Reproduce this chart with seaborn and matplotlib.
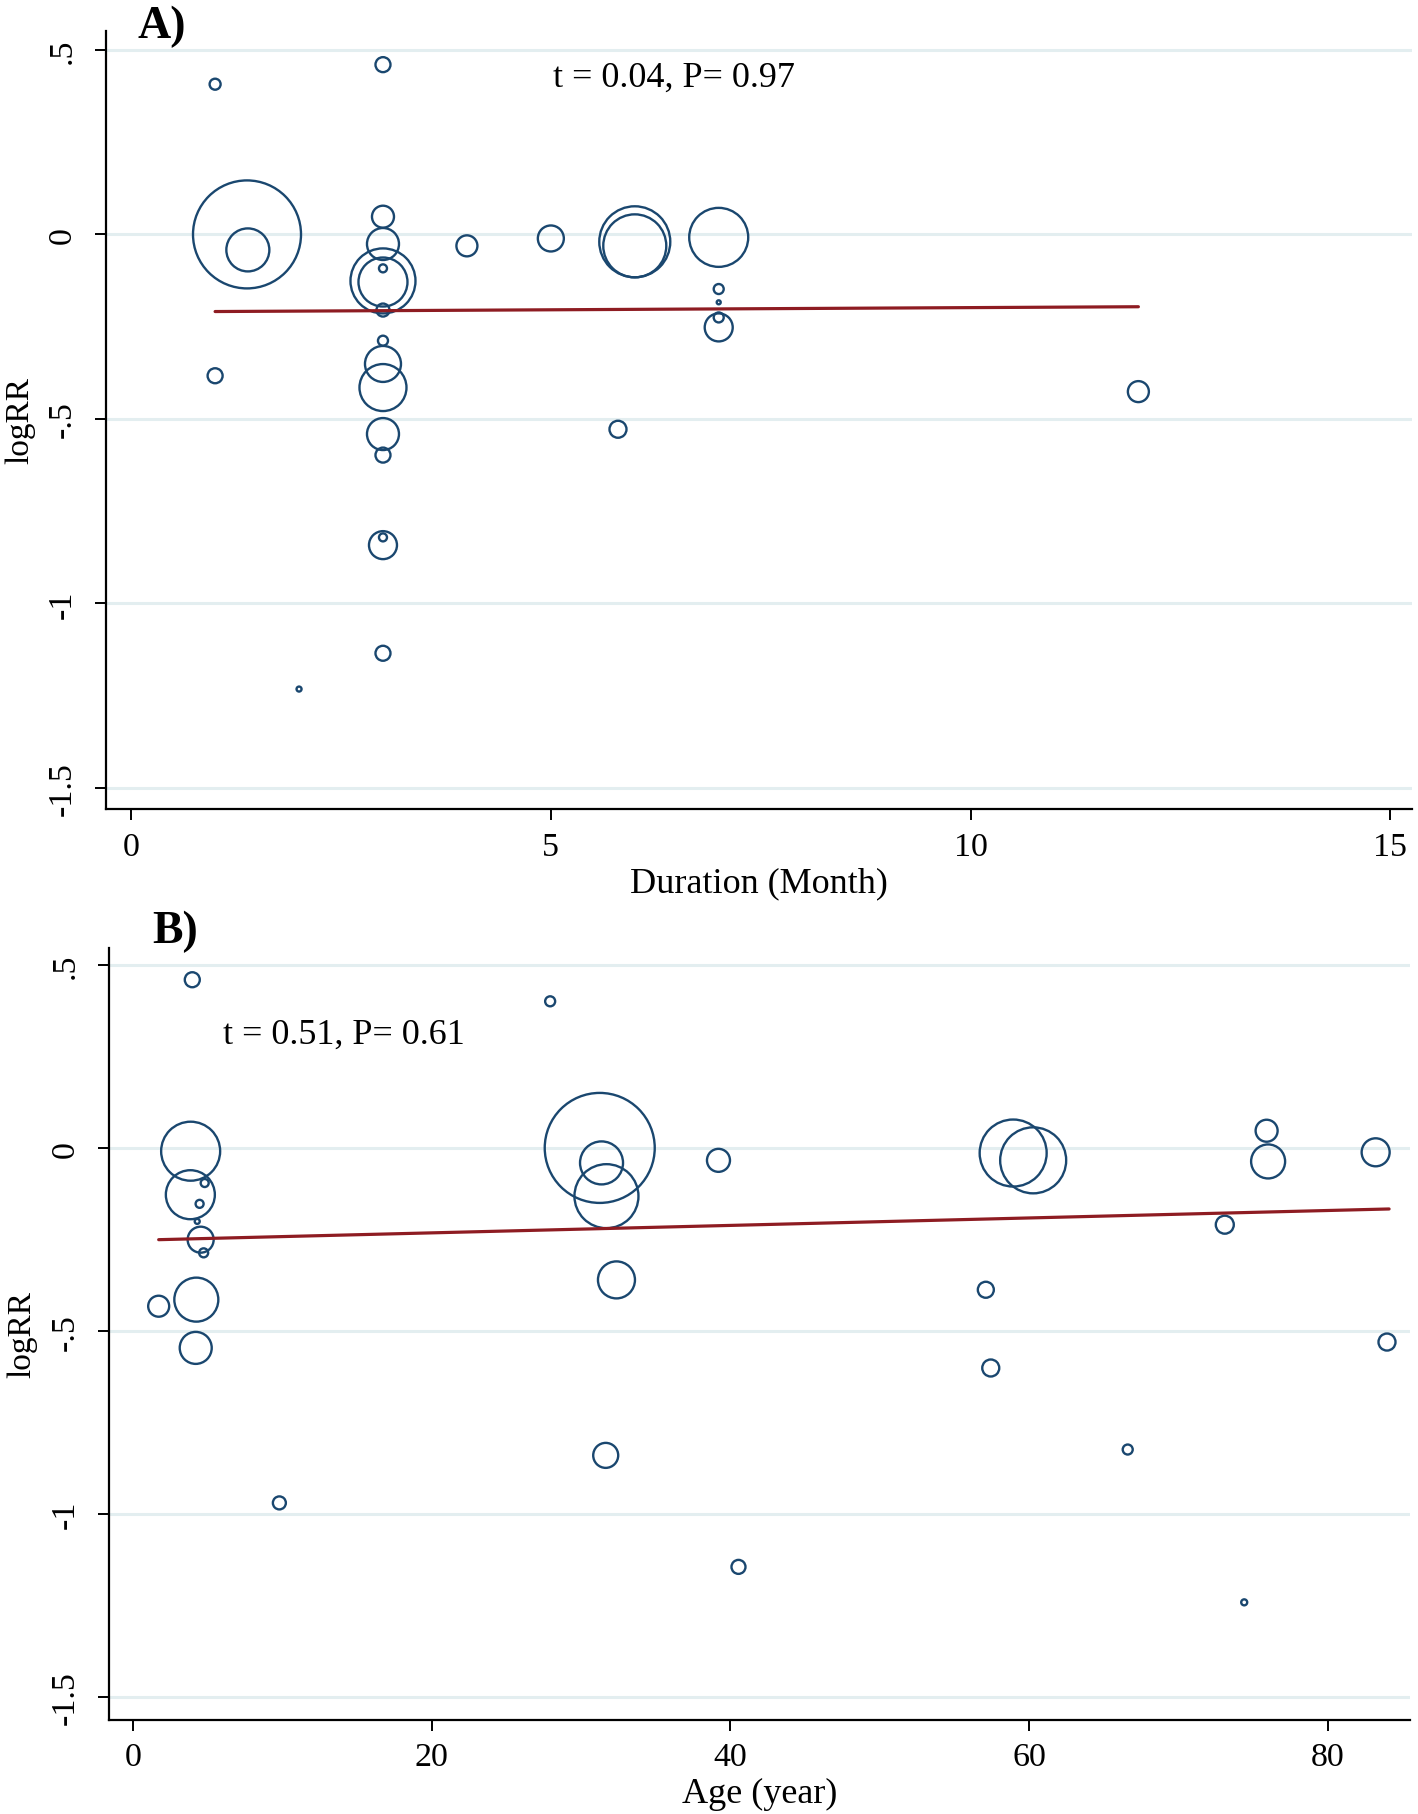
import numpy as np
import pandas as pd
import matplotlib
matplotlib.use("Agg")
import matplotlib.pyplot as plt
import seaborn as sns

# ---------------- data ----------------
# Panel A: duration (months) vs logRR, bubble weight
dur_x = [1, 3, 1.38, 1.39, 3, 3, 3, 3, 3, 3, 3, 3, 3, 3, 3, 1, 4, 5, 6, 6,
         7, 7, 7, 7, 7, 5.8, 12, 3, 3, 3, 2]
dur_y = [0.407, 0.46, 0.0, -0.042, 0.048, -0.026, -0.126, -0.129, -0.092, -0.205,
         -0.288, -0.351, -0.415, -0.541, -0.598, -0.383, -0.031, -0.011, -0.02, -0.031,
         -0.008, -0.148, -0.184, -0.225, -0.252, -0.528, -0.426, -0.842, -0.821, -1.135,
         -1.232]
dur_w = [1.21, 2.25, 116.64, 18.49, 4.84, 10.24, 42.25, 24.01, 0.64, 1.69,
         1.00, 12.96, 22.09, 10.24, 2.25, 2.25, 4.41, 6.76, 50.41, 39.69,
         34.81, 1.00, 0.16, 1.00, 7.84, 2.89, 4.41, 7.84, 0.64, 2.25,
         0.25]
dur_fit_x = [1, 12]
dur_fit_y = [-0.209, -0.196]

# Panel B: age (years) vs logRR, bubble weight
age_x = [3.97, 27.93, 3.86, 3.84, 4.8, 4.46, 4.3, 4.53, 4.73, 4.24, 1.72, 4.2,
         31.25, 31.37, 31.7, 32.37, 39.2, 58.93, 60.27, 57.1, 57.43, 31.65, 9.8,
         40.54, 66.6, 74.4, 75.9, 76.0, 83.2, 73.1, 83.96]
age_y = [0.461, 0.402, -0.008, -0.127, -0.095, -0.152, -0.2, -0.25, -0.286, -0.414,
         -0.432, -0.546, 0.001, -0.04, -0.131, -0.36, -0.033, -0.013, -0.033, -0.387,
         -0.601, -0.84, -0.97, -1.145, -0.824, -1.242, 0.048, -0.036, -0.011, -0.209,
         -0.53]
age_w = [2.25, 1.00, 34.81, 24.01, 0.64, 0.64, 0.25, 6.76, 0.81, 19.36, 4.41, 10.24,
         121.0, 18.49, 40.96, 13.69, 5.29, 44.89, 43.56, 2.56, 2.89, 6.25, 1.69,
         1.96, 1.00, 0.36, 4.84, 11.56, 7.84, 3.24, 2.89]
age_fit_x = [1.72, 84.1]
age_fit_y = [-0.25, -0.166]

ytick_vals = [-1.5, -1, -0.5, 0, 0.5]
ytick_labels = ["-1.5", "-1", "-.5", "0", ".5"]
dur_ticks = [0, 5, 10, 15]
age_ticks = [0, 20, 40, 60, 80]

stat_A = "t = 0.04, P= 0.97"
stat_B = "t = 0.51, P= 0.61"

# ---------------- style ----------------
sns.set_theme(style="white")
plt.rcParams["font.family"] = ["Liberation Serif", "DejaVu Serif"]
plt.rcParams["axes.unicode_minus"] = False

NAVY = "#1a476f"
MAROON = "#8e1c22"
GRID = "#e3eef0"
K = 51.84  # points^2 per weight unit

W, H = 1418, 1815
fig = plt.figure(figsize=(W / 100, H / 100), dpi=100)


def make_axes(l, r, t, b):
    return fig.add_axes([l / W, 1 - b / H, (r - l) / W, (b - t) / H])


axA = make_axes(106, 1412, 31.7, 810)
axB = make_axes(108.5, 1410, 949.3, 1720.7)

panels = [
    (axA, dur_x, dur_y, dur_w, dur_fit_x, dur_fit_y, dur_ticks, (-0.30, 15.26),
     (-1.557, 0.552), "Duration (Month)", stat_A, (5.02, 0.426)),
    (axB, age_x, age_y, age_w, age_fit_x, age_fit_y, age_ticks, (-1.64, 85.5),
     (-1.563, 0.547), "Age (year)", stat_B, (6.02, 0.313)),
]

for ax, xs, ys, ws, fx, fy, xt, xl, yl, xlabel, stat, spos in panels:
    df = pd.DataFrame({"x": xs, "y": ys, "w": ws})
    wmin, wmax = min(ws), max(ws)
    sns.scatterplot(data=df, x="x", y="y", size="w",
                    sizes=(K * wmin, K * wmax), size_norm=(wmin, wmax),
                    legend=False, ax=ax, zorder=3)
    pts = ax.collections[-1]
    pts.set_facecolor("none")
    pts.set_edgecolor(NAVY)
    pts.set_linewidth(1.7)

    sns.lineplot(x=fx, y=fy, color=MAROON, linewidth=2.3, ax=ax, zorder=4)

    ax.set_xlim(*xl)
    ax.set_ylim(*yl)
    ax.set_xticks(xt)
    ax.set_xticklabels([str(v) for v in xt])
    ax.set_yticks(ytick_vals)
    ax.set_yticklabels(ytick_labels)

    ax.grid(False)
    for v in ytick_vals:
        ax.axhline(v, color=GRID, linewidth=2.2, zorder=0)

    for s in ["top", "right"]:
        ax.spines[s].set_visible(False)
    for s in ["left", "bottom"]:
        ax.spines[s].set_color("black")
        ax.spines[s].set_linewidth(1.6)

    ax.tick_params(axis="both", which="major", direction="out", length=8,
                   width=1.4, color="black", labelsize=24.5, labelcolor="black",
                   left=True, bottom=True)
    ax.tick_params(axis="x", pad=8)
    ax.tick_params(axis="y", pad=12, labelrotation=90)
    for lab in ax.get_yticklabels():
        lab.set_va("center")

    ax.set_xlabel(xlabel, fontsize=26, color="black", labelpad=3)
    ax.set_ylabel("logRR", fontsize=24, color="black")
    ax.yaxis.label.set_va("center")
    ax.yaxis.set_label_coords(-0.066, 0.5)

    ax.text(spos[0], spos[1], stat, fontsize=26, color="black",
            ha="left", va="center", zorder=5)

fig.text(137 / W, 1 - 27 / H, "A)", fontsize=33, fontweight="bold",
         ha="left", va="center", color="black")
fig.text(152 / W, 1 - 932 / H, "B)", fontsize=33, fontweight="bold",
         ha="left", va="center", color="black")

fig.savefig("out.png", dpi=100, facecolor="white")
